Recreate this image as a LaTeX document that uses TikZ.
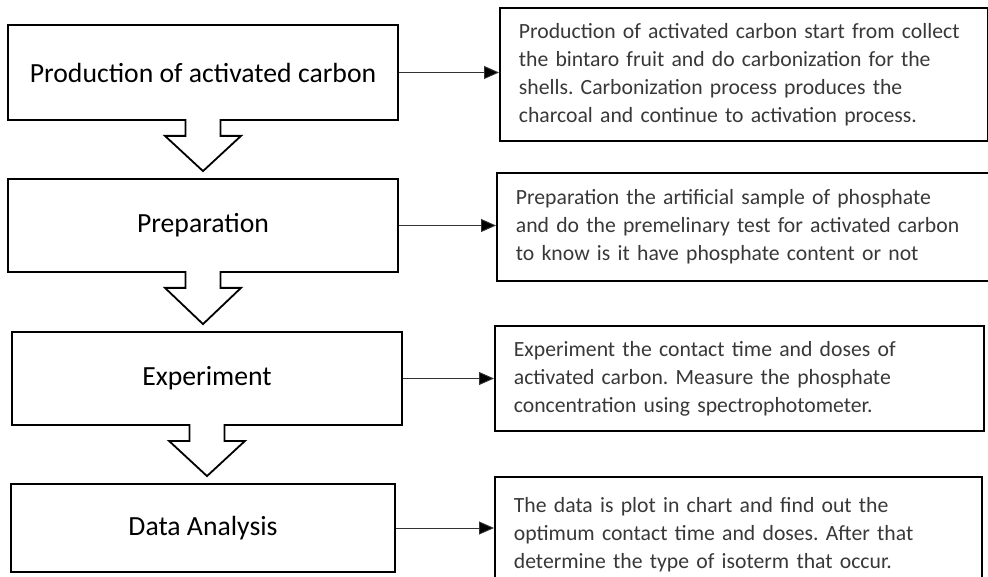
\documentclass[tikz,border=0pt]{standalone}
\usepackage{fontspec}
\setmainfont{Carlito}
\usepackage{tikz}
\usetikzlibrary{calc, arrows.meta}
\newcommand{\notefont}{\fontsize{21.7}{28}\selectfont\frenchspacing\hyphenpenalty=10000\relax}
\tikzset{stage box/.style={
        draw, line width=1.8pt, fill=white, minimum width=390pt,
        minimum height=#1, align=center, inner sep=0pt,
        font=\fontsize{27.7}{32}\selectfont,
    },
    note box/.style={
        draw, line width=1.8pt, anchor=west, align=left,
        inner xsep=19pt, inner ysep=0pt, text=black!78,
        font=\notefont,
    },
    note arrow/.style={
        draw=black!80, line width=0.9pt,
        -{Triangle[length=15pt, width=13pt, fill=black]},
    },
    stage arrow/.style={
        line width=1.8pt, line join=miter,
    },
}
%% hollow arrow from the bottom of one stage to the top of the next
\newcommand{\stagearrow}[2]{%
    \fill[white] let \p1=(#1.south), \p2=(#2.north) in
        (\x1-17.5pt,\y1+2pt) -- (\x1-17.5pt,\y1-15pt) -- (\x1-38pt,\y1-15pt)
        -- (\x1,\y2+7pt) -- (\x1+38pt,\y1-15pt) -- (\x1+17.5pt,\y1-15pt)
        -- (\x1+17.5pt,\y1+2pt) -- cycle;
    \draw[stage arrow] let \p1=(#1.south), \p2=(#2.north) in
        (\x1-17.5pt,\y1+1.8pt) -- (\x1-17.5pt,\y1-15pt) -- (\x1-38pt,\y1-15pt)
        -- (\x1,\y2+7pt) -- (\x1+38pt,\y1-15pt) -- (\x1+17.5pt,\y1-15pt)
        -- (\x1+17.5pt,\y1+1.8pt);
}

\begin{document}
\begin{tikzpicture}[x=1pt, y=-1pt]
    \useasboundingbox (0,0) rectangle (988,577);
    \clip (0,0) rectangle (988,577);

    %% the four stages on the left
        \node [stage box=95pt] at (203,72.5) (P1) {Production of activated carbon};
        \node [stage box=93pt] at (203,225.5) (P2) {Preparation};
        \node [stage box=93pt] at (207,378.5) (P3) {Experiment};
        \node [stage box=88pt, minimum width=384pt] at (203,528) (P4) {Data Analysis};

    %% the notes on the right
        \node [note box, minimum width=488pt, minimum height=133pt, text width=450pt] at (499,74.5) (N1)
            {Production of activated carbon start from collect\\
             the bintaro fruit and do carbonization for the\\
             shells. Carbonization process produces the\\
             charcoal and continue to activation process.};
        \node [note box, minimum width=500pt, minimum height=108pt, text width=462pt] at (496,227) (N2)
            {Preparation the artificial sample of phosphate\\
             and do the premelinary test for activated carbon\\
             to know is it have phosphate content or not};
        \node [note box, minimum width=489pt, minimum height=105pt, text width=451pt] at (494,378.5) (N3)
            {Experiment the contact time and doses of\\
             activated carbon. Measure the phosphate\\
             concentration using spectrophotometer.};
        \node [note box, minimum width=487pt, minimum height=116pt, text width=449pt] at (494,535) (N4)
            {The data is plot in chart and find out the\\
             optimum contact time and doses. After that\\
             determine the type of isoterm that occur.};

    %% hollow arrows between the stages
        \stagearrow{P1}{P2}
        \stagearrow{P2}{P3}
        \stagearrow{P3}{P4}

    %% thin arrows to the notes
        \draw [note arrow] (P1.east) -- (P1.east -| N1.west);
        \draw [note arrow] (P2.east) -- (P2.east -| N2.west);
        \draw [note arrow] (P3.east) -- (P3.east -| N3.west);
        \draw [note arrow] (P4.east) -- (P4.east -| N4.west);

\end{tikzpicture}
\end{document}
